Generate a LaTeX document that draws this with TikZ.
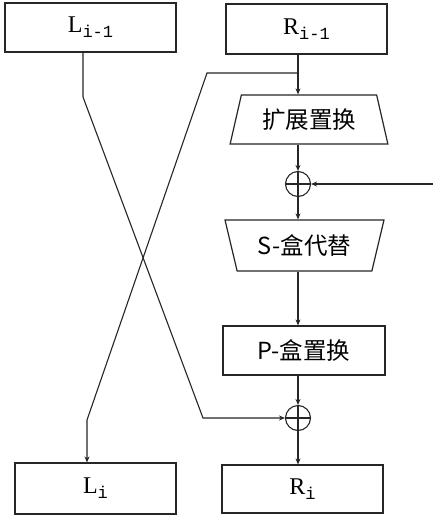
\documentclass[tikz,border=0pt]{standalone}
\usepackage{fontspec}
\setmainfont{Liberation Serif}
\newfontfamily\cjk{Noto Sans CJK SC}
\newfontfamily\subf{Liberation Mono}
\usetikzlibrary{arrows.meta,shapes.geometric}
\newcommand{\lab}[2]{\fontsize{24}{24}\selectfont #1\raisebox{-5pt}{\subf\fontsize{17}{17}\selectfont #2}}
\begin{document}
\begin{tikzpicture}[x=1pt,y=-1pt,
  line width=1.1pt, draw=black!85,
  >={Stealth[length=6pt,width=5pt]},
  regbox/.style={draw, rectangle, inner sep=0pt, line width=1.2pt},
  cjkt/.style={font=\cjk\fontsize{23.5}{24}\selectfont},
  trapbox/.style={draw, trapezium, trapezium stretches=true, inner sep=0pt, line width=1.2pt, font=\cjk\fontsize{23.5}{24}\selectfont},
  xorc/.style={draw, circle, minimum size=25pt, inner sep=0pt, line width=1.1pt}]
\useasboundingbox (0,0) rectangle (433,530);
\fill[white] (0,0) rectangle (433,530);
% boxes
\node[regbox, minimum width=171pt, minimum height=49pt] (lprev) at (90.5,27.5) {\lab{L}{i-1}};
\node[regbox, minimum width=161pt, minimum height=50pt] (rprev) at (306.5,29) {\lab{R}{i-1}};
\node[regbox, minimum width=161pt, minimum height=51pt] (li) at (95.5,488.5) {\lab{L}{i}};
\node[regbox, minimum width=161pt, minimum height=48pt] (ri) at (302.5,489) {\lab{R}{i}};
\node[regbox, minimum width=162pt, minimum height=49pt, cjkt] (pbox) at (304,350.5) {P-盒置换};
\node[trapbox, minimum width=158pt, minimum height=49pt, trapezium angle=70.3] (exp) at (309,119.5) {扩展置换};
\node[trapbox, minimum width=159pt, minimum height=51pt, trapezium angle=69, shape border rotate=180] (sbox) at (304.5,245.5) {S-盒代替};
% xors
\node[xorc] (x1) at (298,184) {};
\node[xorc] (x2) at (298,418) {};
\draw (x1.west) -- (x1.east);
\draw (x2.west) -- (x2.east);
% helper coordinates
\coordinate (xc) at (298,0);
\coordinate (lx) at (83,0);
\coordinate (lx2) at (87,0);
\coordinate (br) at (298,73);
\coordinate (brl) at (207,73);
\coordinate (lbend) at (83,97);
\coordinate (lend) at (203,418);
\coordinate (rbend) at (87,420);
\coordinate (kin) at (433,184);
% main flow
\draw[->] (rprev.south -| xc) -- (exp.north -| xc);
\draw[->] (exp.south -| xc) -- (x1.north);
\draw (x1.north) -- (x1.south);
\draw[->] (x1.south) -- (sbox.north -| xc);
\draw[->] (kin) -- (x1.east);
\draw[->] (sbox.south -| xc) -- (pbox.north -| xc);
\draw[->] (pbox.south -| xc) -- (x2.north);
\draw (x2.north) -- (x2.south);
\draw[->] (x2.south) -- (ri.north -| xc);
% crossing
\draw[->] (lprev.south -| lx) -- (lbend) -- (lend) -- (x2.west);
\draw[->] (br) -- (brl) -- (rbend) -- (li.north -| lx2);
\end{tikzpicture}
\end{document}
